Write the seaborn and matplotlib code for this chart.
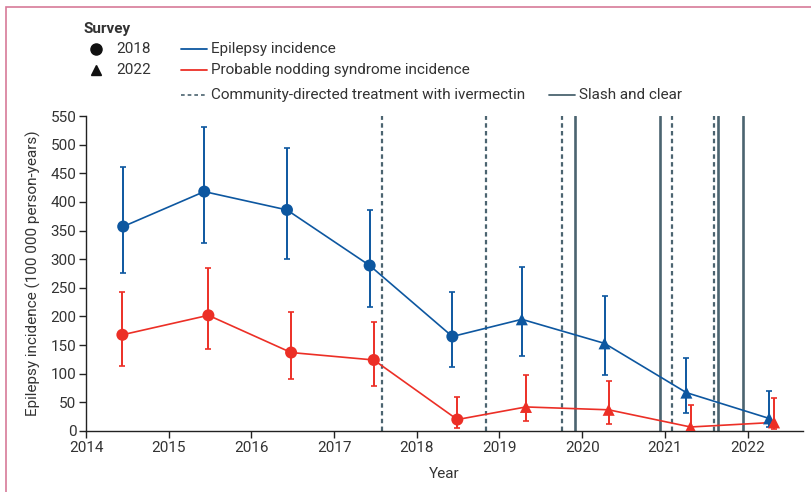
import matplotlib
matplotlib.use("Agg")
import matplotlib.pyplot as plt
import matplotlib.patches as mpatches
from matplotlib.lines import Line2D
import numpy as np
import pandas as pd
import seaborn as sns

# ---- data ----
survey = ["2018"] * 5 + ["2022"] * 4
epi_x = [2014.45, 2015.43, 2016.43, 2017.43, 2018.43, 2019.27, 2020.27, 2021.26, 2022.26]
epi_y = [357, 418, 386, 289, 165, 195, 153, 67, 22]
epi_lo = [276, 329, 300, 216, 112, 131, 97, 32, 7]
epi_hi = [461, 530, 494, 386, 242, 287, 236, 128, 69]
nod_x = [2014.44, 2015.48, 2016.48, 2017.48, 2018.49, 2019.32, 2020.32, 2021.31, 2022.32]
nod_y = [168, 202, 137, 124, 20, 42, 37, 7, 15]
nod_lo = [114, 144, 90, 79, 6, 18, 13, 0, 3]
nod_hi = [243, 285, 207, 191, 59, 97, 88, 46, 57]
cdti_years = [2017.58, 2018.84, 2019.76, 2021.09, 2021.59]
slash_years = [2019.91, 2020.94, 2021.64, 2021.94]
y_ticks = list(range(0, 551, 50))
x_ticks = [2014, 2015, 2016, 2017, 2018, 2019, 2020, 2021, 2022]

BLUE = "#0d57a0"
RED = "#ec2f26"
SLATE = "#4b6470"
TXT = "#333333"
FS = 11

sns.set_theme(style="ticks")
plt.rcParams["font.family"] = ["Roboto", "DejaVu Sans"]
plt.rcParams["text.color"] = TXT
plt.rcParams["axes.labelcolor"] = TXT
plt.rcParams["xtick.color"] = TXT
plt.rcParams["ytick.color"] = TXT

W, H = 812, 492
fig = plt.figure(figsize=(W / 100, H / 100), dpi=100)
ax = fig.add_axes([86 / W, 61 / H, (803 - 86) / W, (431 - 116) / H])

df = pd.concat([
    pd.DataFrame({"x": epi_x, "y": epi_y, "lo": epi_lo, "hi": epi_hi,
                  "survey": survey, "measure": "Epilepsy incidence"}),
    pd.DataFrame({"x": nod_x, "y": nod_y, "lo": nod_lo, "hi": nod_hi,
                  "survey": survey, "measure": "Probable nodding syndrome incidence"}),
], ignore_index=True)
pal = {"Epilepsy incidence": BLUE, "Probable nodding syndrome incidence": RED}

# intervention lines
for xv in cdti_years:
    ax.axvline(xv, color=SLATE, lw=1.6, ls=(0, (2.0, 1.5)), zorder=1)
for xv in slash_years:
    ax.axvline(xv, color=SLATE, lw=1.9, zorder=1)

for m, sub in df.groupby("measure"):
    c = pal[m]
    ax.errorbar(sub["x"], sub["y"], yerr=[sub["y"] - sub["lo"], sub["hi"] - sub["y"]],
                fmt="none", ecolor=c, elinewidth=1.4, capsize=2.2, capthick=1.2, zorder=2)

sns.lineplot(data=df, x="x", y="y", hue="measure", palette=pal, lw=1.2,
             sort=True, estimator=None, legend=False, ax=ax, zorder=3)
sns.scatterplot(data=df, x="x", y="y", hue="measure", style="survey", palette=pal,
                markers={"2018": "o", "2022": "^"}, s=75, linewidth=0,
                legend=False, ax=ax, zorder=4)

ax.set_xlim(2014, 2022.67)
ax.set_ylim(0, 550)
ax.set_xticks(x_ticks)
ax.set_yticks(y_ticks)
ax.set_xticklabels([str(t) for t in x_ticks], fontsize=FS)
ax.set_yticklabels([str(t) for t in y_ticks], fontsize=FS)
ax.tick_params(length=5, width=1, color="#222222", pad=2)
sns.despine(ax=ax)
for s in ["left", "bottom"]:
    ax.spines[s].set_color("#222222")
    ax.spines[s].set_linewidth(1.0)
ax.set_xlabel("Year", fontsize=FS, labelpad=9)
ax.set_ylabel("Epilepsy incidence (100 000 person-years)", fontsize=FS, labelpad=7)

# pink frame
fig.patches.append(mpatches.Rectangle((6 / W, -0.05), 1.2, (H - 7) / H + 0.05,
                                      transform=fig.transFigure, fill=False,
                                      edgecolor="#d77a98", lw=1.2))

# legend (figure-pixel coordinates)
def fx(px):
    return px / W

def fy(py):
    return 1 - py / H

fig.text(fx(84), fy(29), "Survey", fontsize=FS, fontweight="bold", va="center")
fig.add_artist(Line2D([fx(96)], [fy(49)], marker="o", color="#111111", ms=8, ls="none"))
fig.text(fx(116), fy(49), "2018", fontsize=FS, va="center")
fig.add_artist(Line2D([fx(96)], [fy(70)], marker="^", color="#111111", ms=7, ls="none"))
fig.text(fx(116), fy(70), "2022", fontsize=FS, va="center")
fig.add_artist(Line2D([fx(181), fx(207)], [fy(49), fy(49)], color=BLUE, lw=1.3))
fig.text(fx(211), fy(49), "Epilepsy incidence", fontsize=FS, va="center")
fig.add_artist(Line2D([fx(181), fx(207)], [fy(70), fy(70)], color=RED, lw=1.3))
fig.text(fx(211), fy(70), "Probable nodding syndrome incidence", fontsize=FS, va="center")
fig.add_artist(Line2D([fx(181), fx(207)], [fy(95), fy(95)], color=SLATE, lw=1.2, ls=(0, (2.2, 1.8))))
fig.text(fx(211), fy(95), "Community-directed treatment with ivermectin", fontsize=FS, va="center")
fig.add_artist(Line2D([fx(549), fx(575)], [fy(95), fy(95)], color=SLATE, lw=1.3))
fig.text(fx(579), fy(95), "Slash and clear", fontsize=FS, va="center")

fig.savefig("out.png", dpi=100)
